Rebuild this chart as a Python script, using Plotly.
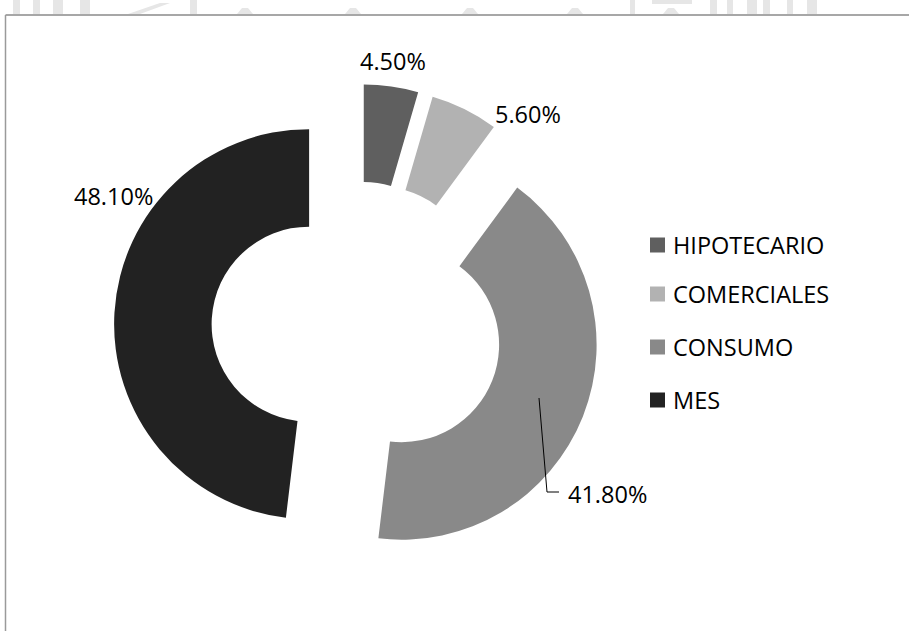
import plotly.graph_objects as go

# Loan portfolio composition
categories = ["HIPOTECARIO", "COMERCIALES", "CONSUMO", "MES"]
shares = [4.5, 5.6, 41.8, 48.1]
colors = ["#5f5f5f", "#b2b2b2", "#898989", "#222222"]

W, H = 909, 631
FONT = "Open Sans"
FONT_SIZE = 23.5


def px(x):
    return x / W


def py(y):
    return 1 - y / H


# Donut geometry (pixels): unexploded centre, outer radius, pull fraction
cx, cy, R = 357, 327, 195
pull = 0.246
half = R * (1 + pull)

fig = go.Figure(
    go.Pie(
        labels=categories,
        values=shares,
        sort=False,
        direction="clockwise",
        rotation=0,
        hole=0.5,
        pull=pull,
        marker=dict(colors=colors, line=dict(width=0)),
        textinfo="none",
        hoverinfo="label+percent",
        showlegend=False,
        domain=dict(x=[px(cx - half), px(cx + half)],
                    y=[py(cy + half), py(cy - half)]),
    )
)

# Value labels
label_pos = [(393, 61), (528, 114), (607, 494), (113, 196)]
annotations = []
for val, (lx, ly) in zip(shares, label_pos):
    annotations.append(dict(
        x=px(lx), y=py(ly), xref="paper", yref="paper",
        text=f"{val:.2f}%", showarrow=False,
        xanchor="center", yanchor="middle",
        font=dict(family=FONT, size=FONT_SIZE, color="#000000"),
    ))

shapes = []
# Leader line for the CONSUMO label
shapes.append(dict(type="line", xref="paper", yref="paper",
                   x0=px(539), y0=py(398), x1=px(547), y1=py(492),
                   line=dict(color="#000000", width=1)))
shapes.append(dict(type="line", xref="paper", yref="paper",
                   x0=px(547), y0=py(492), x1=px(559), y1=py(492),
                   line=dict(color="#000000", width=1)))

# Legend drawn as squares and text
legend_y = [245, 294, 347, 400]
for name, col, ly in zip(categories, colors, legend_y):
    shapes.append(dict(type="rect", xref="paper", yref="paper",
                       x0=px(650), x1=px(665), y0=py(ly + 7.5), y1=py(ly - 7.5),
                       fillcolor=col, line=dict(width=0)))
    annotations.append(dict(
        x=px(671), y=py(ly), xref="paper", yref="paper",
        text=name, showarrow=False, xanchor="left", yanchor="middle",
        font=dict(family=FONT, size=FONT_SIZE, color="#000000"),
    ))

# Chart frame
shapes.append(dict(type="line", xref="paper", yref="paper",
                   x0=px(5.5), y0=py(15), x1=px(909), y1=py(15),
                   line=dict(color="#8a8a8a", width=1.5)))
shapes.append(dict(type="line", xref="paper", yref="paper",
                   x0=px(5.5), y0=py(15), x1=px(5.5), y1=py(631),
                   line=dict(color="#9a9a9a", width=1.5)))

# Faint page decoration above the frame
bars = [(13, 20), (33, 40), (53, 63), (80, 90), (190, 197), (630, 635),
        (710, 717), (727, 733), (747, 757), (763, 770), (787, 793), (807, 817)]
for x0, x1 in bars:
    shapes.append(dict(type="rect", xref="paper", yref="paper",
                       x0=px(x0), x1=px(x1), y0=py(14), y1=py(0),
                       fillcolor="#e6e6e6", line=dict(width=0), layer="below"))
for tx in [245, 353, 470, 575, 671]:
    path = (f"M {px(tx - 8)},{py(14)} L {px(tx + 8)},{py(14)} "
            f"L {px(tx + 3)},{py(8)} L {px(tx - 3)},{py(8)} Z")
    shapes.append(dict(type="path", xref="paper", yref="paper", path=path,
                       fillcolor="#e6e6e6", line=dict(width=0), layer="below"))
shapes.append(dict(type="rect", xref="paper", yref="paper",
                   x0=px(652), x1=px(692), y0=py(4), y1=py(0),
                   fillcolor="#e6e6e6", line=dict(width=0), layer="below"))
shapes.append(dict(type="path", xref="paper", yref="paper",
                   path=(f"M {px(128)},{py(14)} L {px(160)},{py(3)} "
                         f"L {px(170)},{py(3)} L {px(140)},{py(14)} Z"),
                   fillcolor="#e6e6e6", line=dict(width=0), layer="below"))

fig.update_layout(
    width=W, height=H,
    margin=dict(l=0, r=0, t=0, b=0),
    paper_bgcolor="#ffffff",
    plot_bgcolor="#ffffff",
    annotations=annotations,
    shapes=shapes,
    font=dict(family=FONT),
)

fig.write_html("out.html")
